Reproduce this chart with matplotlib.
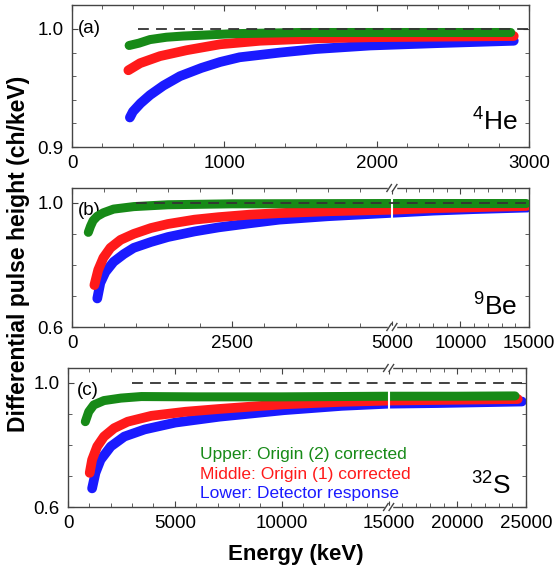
import matplotlib
matplotlib.use('Agg')
import matplotlib.pyplot as plt
import numpy as np

plt.rcParams['font.family'] = ['Liberation Sans', 'DejaVu Sans']
plt.rcParams['mathtext.fontset'] = 'custom'
plt.rcParams['mathtext.rm'] = 'Liberation Sans'

# ---- data (energy in keV, pulse height in ch/keV) ----
# (a) 4He
he_blue_e = [380, 400, 450, 512, 600, 709, 850, 972, 1100, 1366, 1600, 1957, 2400, 2900]
he_blue_v = [0.925, 0.930, 0.937, 0.944, 0.952, 0.960, 0.967, 0.972, 0.976, 0.980,
             0.983, 0.986, 0.988, 0.990]
he_red_e = [370, 447, 578, 753, 972, 1234, 1600, 1957, 2900]
he_red_v = [0.965, 0.971, 0.977, 0.982, 0.987, 0.990, 0.992, 0.993, 0.994]
he_green_e = [375, 440, 512, 620, 730, 900, 1060, 1500, 2880]
he_green_v = [0.986, 0.988, 0.991, 0.993, 0.994, 0.995, 0.996, 0.997, 0.997]

# (b) 9Be
be_blue_e = [395, 443, 522, 650, 810, 965, 1234, 1500, 1915, 2290, 2770, 3240, 4000,
             5000, 8000, 11000, 14900]
be_blue_v = [0.692, 0.742, 0.777, 0.810, 0.835, 0.855, 0.874, 0.890, 0.908, 0.921,
             0.934, 0.946, 0.957, 0.968, 0.975, 0.980, 0.985]
be_red_e = [350, 410, 490, 600, 760, 965, 1234, 1500, 1915, 2290, 2770, 3240, 4000,
            5000, 8000, 11000, 14800]
be_red_v = [0.735, 0.784, 0.823, 0.855, 0.881, 0.900, 0.919, 0.932, 0.946, 0.954,
            0.962, 0.967, 0.973, 0.978, 0.983, 0.986, 0.990]
be_green_e = [255, 290, 330, 395, 490, 650, 965, 1500, 2500, 5000, 10000, 14800]
be_green_v = [0.905, 0.925, 0.943, 0.957, 0.968, 0.980, 0.988, 0.994, 0.997, 0.998,
              0.998, 0.998]

# (c) 32S
s_blue_e = [1127, 1286, 1524, 2000, 2635, 3587, 5016, 7079, 8667, 10095, 12810, 15000,
            18550, 24700]
s_blue_v = [0.660, 0.710, 0.752, 0.795, 0.827, 0.850, 0.872, 0.891, 0.902, 0.912,
            0.926, 0.933, 0.935, 0.940]
s_red_e = [1016, 1127, 1365, 1683, 2159, 2794, 3905, 5490, 7079, 8667, 10095, 12810,
           15000, 18550, 24400]
s_red_v = [0.710, 0.752, 0.795, 0.827, 0.854, 0.875, 0.894, 0.907, 0.916, 0.924,
           0.931, 0.939, 0.943, 0.945, 0.948]
s_green_e = [810, 970, 1206, 1680, 2476, 3430, 6000, 10000, 15000, 20000, 24200]
s_green_v = [0.875, 0.907, 0.929, 0.943, 0.951, 0.956, 0.955, 0.955, 0.957, 0.957, 0.958]

ref_start = [430, 1000, 3000]     # where the dashed 1.0 line starts
isotopes = ['$^{4}$He', '$^{9}$Be', '$^{32}$S']
letters = ['(a)', '(b)', '(c)']
legend_lines = ['Upper: Origin (2) corrected', 'Middle: Origin (1) corrected',
                'Lower: Detector response']

GREEN = '#178a17'
RED = '#ff1a1a'
BLUE = '#1a1aff'
SPINE = '#444444'


def broken_scale(b, xmax, frac):
    def fwd(x):
        x = np.asarray(x, dtype=float)
        return np.where(x <= b, x / b * frac, frac + (x - b) / (xmax - b) * (1 - frac))

    def inv(y):
        y = np.asarray(y, dtype=float)
        return np.where(y <= frac, y / frac * b, b + (y - frac) / (1 - frac) * (xmax - b))
    return fwd, inv


def style(ax):
    for s in ax.spines.values():
        s.set_color(SPINE)
        s.set_linewidth(1.0)
    ax.tick_params(which='both', direction='in', top=True, right=True,
                   color=SPINE, labelsize=13.5, pad=6)
    ax.tick_params(which='major', length=4)
    ax.tick_params(which='minor', length=3)


def draw_break(ax, fb):
    h = 0.025
    w = 0.005
    for y0 in (0, 1):
        ax.plot([fb - 0.006, fb + 0.006], [y0, y0], transform=ax.transAxes,
                color='white', lw=2.5, clip_on=False, zorder=5)
        for dx in (-0.006, 0.006):
            ax.plot([fb + dx - w, fb + dx + w], [y0 - h, y0 + h], transform=ax.transAxes,
                    color=SPINE, lw=1.0, clip_on=False, zorder=6)


fig = plt.figure(figsize=(5.57, 5.78), dpi=100)
ax_a = fig.add_axes([72 / 557, 1 - 147 / 578, 457 / 557, 142 / 578])
ax_b = fig.add_axes([72 / 557, 1 - 327 / 578, 457 / 557, 139 / 578])
ax_c = fig.add_axes([68 / 557, 1 - 507 / 578, 458 / 557, 139 / 578])

sets = [
    (ax_a, he_blue_e, he_blue_v, he_red_e, he_red_v, he_green_e, he_green_v),
    (ax_b, be_blue_e, be_blue_v, be_red_e, be_red_v, be_green_e, be_green_v),
    (ax_c, s_blue_e, s_blue_v, s_red_e, s_red_v, s_green_e, s_green_v),
]
xmaxs = [3000, 15000, 25000]

for i, (ax, be, bv, re_, rv, ge, gv) in enumerate(sets):
    ax.plot(be, bv, color=BLUE, lw=7, solid_capstyle='round', solid_joinstyle='round', zorder=2)
    ax.plot(re_, rv, color=RED, lw=7, solid_capstyle='round', solid_joinstyle='round', zorder=3)
    ax.plot(ge, gv, color=GREEN, lw=6.5, solid_capstyle='round', solid_joinstyle='round', zorder=4)
    ax.plot([ref_start[i], xmaxs[i]], [1.0, 1.0], color='#333333', lw=1.3,
            dashes=(6, 4), zorder=6)
    style(ax)

# (a) plain linear axis
ax_a.set_xlim(0, 3000)
ax_a.set_ylim(0.9, 1.0203)
ax_a.set_xticks([0, 1000, 2000, 3000])
ax_a.set_xticks(np.arange(0, 3001, 200), minor=True)
ax_a.set_yticks([0.9, 1.0])
ax_a.set_yticklabels(['0.9', '1.0'])
ax_a.set_yticks(np.arange(0.9, 1.02, 0.02), minor=True)

# (b) broken at 5000
fwd, inv = broken_scale(5000, 15000, 0.70)
ax_b.set_xscale('function', functions=(fwd, inv))
ax_b.set_xlim(0, 15000)
ax_b.set_ylim(0.6, 1.048)
ax_b.set_xticks([0, 2500, 5000, 10000, 15000])
ax_b.set_xticklabels(['0', '2500', '5000', '10000', '15000'])
ax_b.set_xticks(list(range(0, 5001, 500)) + list(range(5000, 15001, 1000)), minor=True)
ax_b.set_yticks([0.6, 1.0])
ax_b.set_yticklabels(['0.6', '1.0'])
ax_b.set_yticks([0.7, 0.8, 0.9], minor=True)
ax_b.axvline(5000, ymin=0.78, ymax=0.93, color='white', lw=1.5, zorder=5)
draw_break(ax_b, 0.70)

# (c) broken at 15000
fwd, inv = broken_scale(15000, 25000, 0.70)
ax_c.set_xscale('function', functions=(fwd, inv))
ax_c.set_xlim(0, 25000)
ax_c.set_ylim(0.6, 1.048)
ax_c.set_xticks([0, 5000, 10000, 15000, 20000, 25000])
ax_c.set_xticklabels(['0', '5000', '10000', '15000', '20000', '25000'])
ax_c.set_xticks(range(0, 25001, 1000), minor=True)
ax_c.set_yticks([0.6, 1.0])
ax_c.set_yticklabels(['0.6', '1.0'])
ax_c.set_yticks([0.7, 0.8, 0.9], minor=True)
ax_c.axvline(15000, ymin=0.68, ymax=0.84, color='white', lw=1.5, zorder=5)
draw_break(ax_c, 0.70)

for ax in (ax_b, ax_c):
    ax.xaxis.set_minor_formatter(matplotlib.ticker.NullFormatter())

# panel letters
ax_a.text(0.012, 1.0, letters[0], transform=ax_a.get_yaxis_transform(), fontsize=13.5,
          va='center', ha='left')
ax_b.text(0.012, 0.977, letters[1], transform=ax_b.get_yaxis_transform(), fontsize=13.5,
          va='center', ha='left')
ax_c.text(0.019, 0.977, letters[2], transform=ax_c.get_yaxis_transform(), fontsize=13.5,
          va='center', ha='left')

# isotope labels
ax_a.text(0.976, 0.12, isotopes[0], transform=ax_a.transAxes, fontsize=19,
          ha='right', va='baseline')
ax_b.text(0.974, 0.086, isotopes[1], transform=ax_b.transAxes, fontsize=19,
          ha='right', va='baseline')
ax_c.text(0.968, 0.10, isotopes[2], transform=ax_c.transAxes, fontsize=19,
          ha='right', va='baseline')

# legend text
for k, (txt, col) in enumerate(zip(legend_lines, [GREEN, RED, BLUE])):
    ax_c.text(0.288, 0.375 - k * 0.14, txt, transform=ax_c.transAxes, fontsize=12.5,
              color=col, ha='left', va='center', zorder=8)

fig.text(0.033, 0.56, 'Differential pulse height (ch/keV)', rotation=90,
         fontsize=16.5, fontweight='bold', ha='center', va='center')
fig.text(0.531, 0.040, 'Energy (keV)', fontsize=16, fontweight='bold',
         ha='center', va='center')

fig.savefig('out.png', dpi=100)
